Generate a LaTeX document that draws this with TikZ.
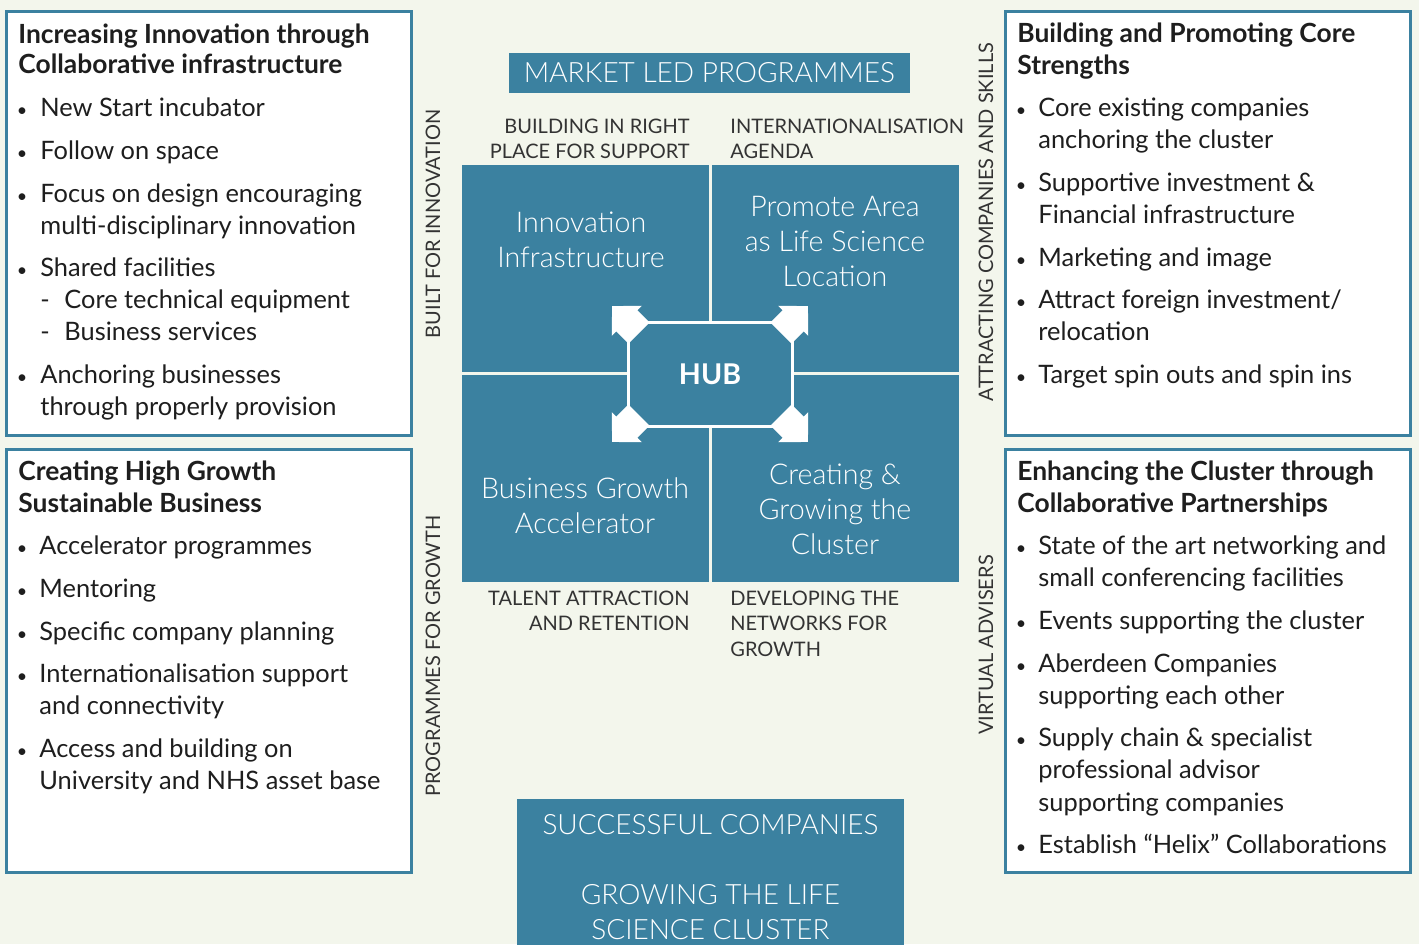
\documentclass[tikz,border=0pt]{standalone}
\usepackage{fontspec}
\setmainfont{Lato}
\newfontfamily\lightfont{Lato Light}
\usetikzlibrary{arrows.meta}
\definecolor{hubteal}{HTML}{3B81A0}
\definecolor{paper}{HTML}{F3F6EC}
\definecolor{ink}{HTML}{1E1E1E}
\definecolor{taggray}{HTML}{333333}
\tikzset{
  frame/.style={draw=hubteal, line width=1.5pt, fill=white},
  head/.style={anchor=base west, inner sep=0pt, text=ink, font=\bfseries\fontsize{13.2}{15}\selectfont},
  entry/.style={anchor=base west, inner sep=0pt, text=ink, font=\fontsize{12.7}{14}\selectfont},
  dot/.style={anchor=base, inner sep=0pt, text=ink, font=\fontsize{9}{10}\selectfont},
  tag/.style={inner sep=0pt, text=taggray, font=\fontsize{10}{12.5}\selectfont},
  quad/.style={fill=hubteal},
  quadtext/.style={text=white, align=center, font=\lightfont\fontsize{14.3}{17.5}\selectfont},
  banner/.style={fill=hubteal, text=white, inner sep=0pt, font=\lightfont\fontsize{14}{17.5}\selectfont},
  hubbox/.style={rectangle, fill=hubteal, draw=white, line width=1.5pt, minimum width=82pt,
    minimum height=52pt, text=white, font=\bfseries\fontsize{14.3}{16}\selectfont},
  hubarrow/.style={draw=white, line width=15pt, line cap=butt,
    -{Triangle[length=10.5pt, width=20.5pt, fill=white]}}
}
\begin{document}
\begin{tikzpicture}[x=0.5pt, y=-0.5pt]
\useasboundingbox (0,0) rectangle (1419,944);
\fill[paper] (0,0) rectangle (1419,944);

% outer boxes
\draw[frame] (6,11) rectangle (411,435);
\draw[frame] (6,449) rectangle (411,872);
\draw[frame] (1005,11) rectangle (1410,435);
\draw[frame] (1005,449) rectangle (1410,872);

% top left box
\node[head] (tl1) at (18,43) {Increasing Innovation through};
\node[head] (tl2) at (18,73) {Collaborative infrastructure};
\foreach \y/\t in {116/New Start incubator, 159/Follow on space, 202/Focus on design encouraging,
  234/multi-disciplinary innovation, 276/Shared facilities, 383/Anchoring businesses,
  415/through properly provision}
  \node[entry] at (40,\y) {\t};
\foreach \y in {116,159,202,276,383}
  \node[dot] at (22,\y) {•};
\node[entry] at (40,308) {-};
\node[entry] at (64,308) {Core technical equipment};
\node[entry] at (40,340) {-};
\node[entry] at (64,340) {Business services};

% bottom left box
\node[head] (bl1) at (18,480) {Creating High Growth};
\node[head] (bl2) at (18,512) {Sustainable Business};
\foreach \y/\t in {554/Accelerator programmes, 597/Mentoring, 640/Specific company planning,
  682/Internationalisation support, 714/and connectivity, 757/Access and building on,
  789/University and NHS asset base}
  \node[entry] at (39,\y) {\t};
\foreach \y in {554,597,640,682,757}
  \node[dot] at (22,\y) {•};

% top right box
\node[head] (tr1) at (1017,42) {Building and Promoting Core};
\node[head] (tr2) at (1017,74) {Strengths};
\foreach \y/\t in {116/Core existing companies, 148/anchoring the cluster, 191/Supportive investment \&,
  223/Financial infrastructure, 266/Marketing and image, 308/{Attract foreign investment/},
  340/relocation, 383/Target spin outs and spin ins}
  \node[entry] at (1038,\y) {\t};
\foreach \y in {116,191,266,308,383}
  \node[dot] at (1021,\y) {•};

% bottom right box
\node[head] (br1) at (1017,480) {Enhancing the Cluster through};
\node[head] (br2) at (1017,512) {Collaborative Partnerships};
\foreach \y/\t in {554/State of the art networking and, 586/small conferencing facilities,
  629/Events supporting the cluster, 672/Aberdeen Companies, 704/supporting each other,
  746/Supply chain \& specialist, 778/professional advisor, 811/supporting companies,
  853/Establish “Helix” Collaborations}
  \node[entry] at (1038,\y) {\t};
\foreach \y in {554,629,672,746,853}
  \node[dot] at (1021,\y) {•};

% centre
\node[banner, minimum width=200.5pt, minimum height=20pt] (market) at (709.5,73) {MARKET LED PROGRAMMES};

\node[tag, anchor=base east] at (690,133) {BUILDING IN RIGHT};
\node[tag, anchor=base east] at (690,158) {PLACE FOR SUPPORT};
\node[tag, anchor=base west] at (730,133) {INTERNATIONALISATION};
\node[tag, anchor=base west] at (730,158) {AGENDA};
\node[tag, anchor=base east] at (690,605) {TALENT ATTRACTION};
\node[tag, anchor=base east] at (690,630) {AND RETENTION};
\node[tag, anchor=base west] at (730,605) {DEVELOPING THE};
\node[tag, anchor=base west] at (730,630) {NETWORKS FOR};
\node[tag, anchor=base west] at (730,656) {GROWTH};

\node[tag, rotate=90] at (433,224) {BUILT FOR INNOVATION};
\node[tag, rotate=90] at (433,656) {PROGRAMMES FOR GROWTH};
\node[tag, rotate=90] at (986,222) {ATTRACTING COMPANIES AND SKILLS};
\node[tag, rotate=90] at (986,645) {VIRTUAL ADVISERS};

\fill[quad] (462,165) rectangle (709,372);
\fill[quad] (712,165) rectangle (959,372);
\fill[quad] (462,375) rectangle (709,582);
\fill[quad] (712,375) rectangle (959,582);

\node[quadtext] (innov) at (581,240) {Innovation\\Infrastructure};
\node[quadtext] (promote) at (835,241) {Promote Area\\as Life Science\\Location};
\node[quadtext] (accel) at (585,506) {Business Growth\\Accelerator};
\node[quadtext] (cluster) at (835,509) {Creating \&\\Growing the\\Cluster};

\node[hubbox] (hub) at (710,374) {HUB};
\coordinate (cNW) at (639,333);
\coordinate (cNE) at (781,333);
\coordinate (cSW) at (639,415);
\coordinate (cSE) at (781,415);
\coordinate (tipNW) at (612,306);
\coordinate (tipNE) at (808,306);
\coordinate (tipSW) at (612,442);
\coordinate (tipSE) at (808,442);
\draw[hubarrow] (cNW) -- (tipNW);
\draw[hubarrow] (cNE) -- (tipNE);
\draw[hubarrow] (cSW) -- (tipSW);
\draw[hubarrow] (cSE) -- (tipSE);

% result box
\fill[quad] (517,799) rectangle (904,950);
\node[banner, anchor=base] (success) at (710.5,834) {SUCCESSFUL COMPANIES};
\node[banner, anchor=base] (grow1) at (710.5,904) {GROWING THE LIFE};
\node[banner, anchor=base] (grow2) at (710.5,939) {SCIENCE CLUSTER};
\end{tikzpicture}
\end{document}
